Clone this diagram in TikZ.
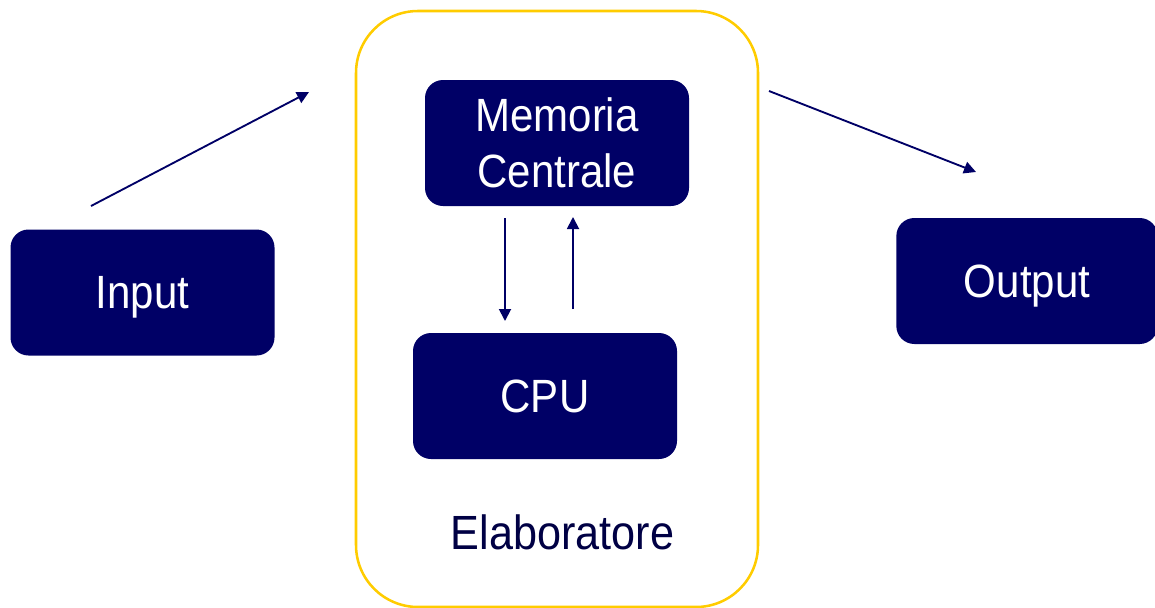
\documentclass[tikz,border=0pt]{standalone}
\usepackage{fontspec}
\newfontfamily\narrowsans[FakeStretch=0.9]{Liberation Sans}
\usetikzlibrary{arrows.meta}
\definecolor{navy}{HTML}{000066}
\definecolor{darknavy}{HTML}{000044}
\definecolor{gold}{HTML}{FFCC00}
\tikzset{
  unitbox/.style={draw=none, fill=navy, rounded corners=13.5pt,
    minimum width=198pt, minimum height=94.5pt, inner sep=0pt,
    text depth=0pt,
    text=white, align=center, font=\narrowsans\fontsize{35}{42}\selectfont},
  flow/.style={draw=navy, line width=1.4pt, -{Triangle[length=9pt,width=9pt]}},
  framebox/.style={draw=gold, line width=1.9pt, rounded corners=46.5pt,
    minimum width=301.5pt, minimum height=447pt, inner sep=0pt}
}
\begin{document}
\begin{tikzpicture}[x=0.75pt, y=-0.75pt]
\useasboundingbox (0,0) rectangle (1155,607);
\node[framebox] (elab) at (557,309) {};
\node[text=darknavy, text depth=0pt, inner sep=0pt, font=\narrowsans\fontsize{36}{42}\selectfont] (elablabel) at (562.5,532.5) {Elaboratore};
\node[unitbox] (input) at (142.5,292.5) {Input};
\node[unitbox] (mem) at (557,143) {Memoria\\Centrale};
\node[unitbox] (cpu) at (545,396) {CPU};
\node[unitbox, minimum width=196pt] (output) at (1027,281) {Output};
\coordinate (inA) at (91,206);
\coordinate (inB) at (309,92);
\coordinate (outA) at (769,91);
\coordinate (outB) at (976,172);
\coordinate (dA) at (505,218);
\coordinate (dB) at (505,321);
\coordinate (uA) at (573,309);
\coordinate (uB) at (573,217);
\draw[flow] (inA) -- (inB);
\draw[flow] (outA) -- (outB);
\draw[flow] (dA) -- (dB);
\draw[flow] (uA) -- (uB);
\end{tikzpicture}
\end{document}
